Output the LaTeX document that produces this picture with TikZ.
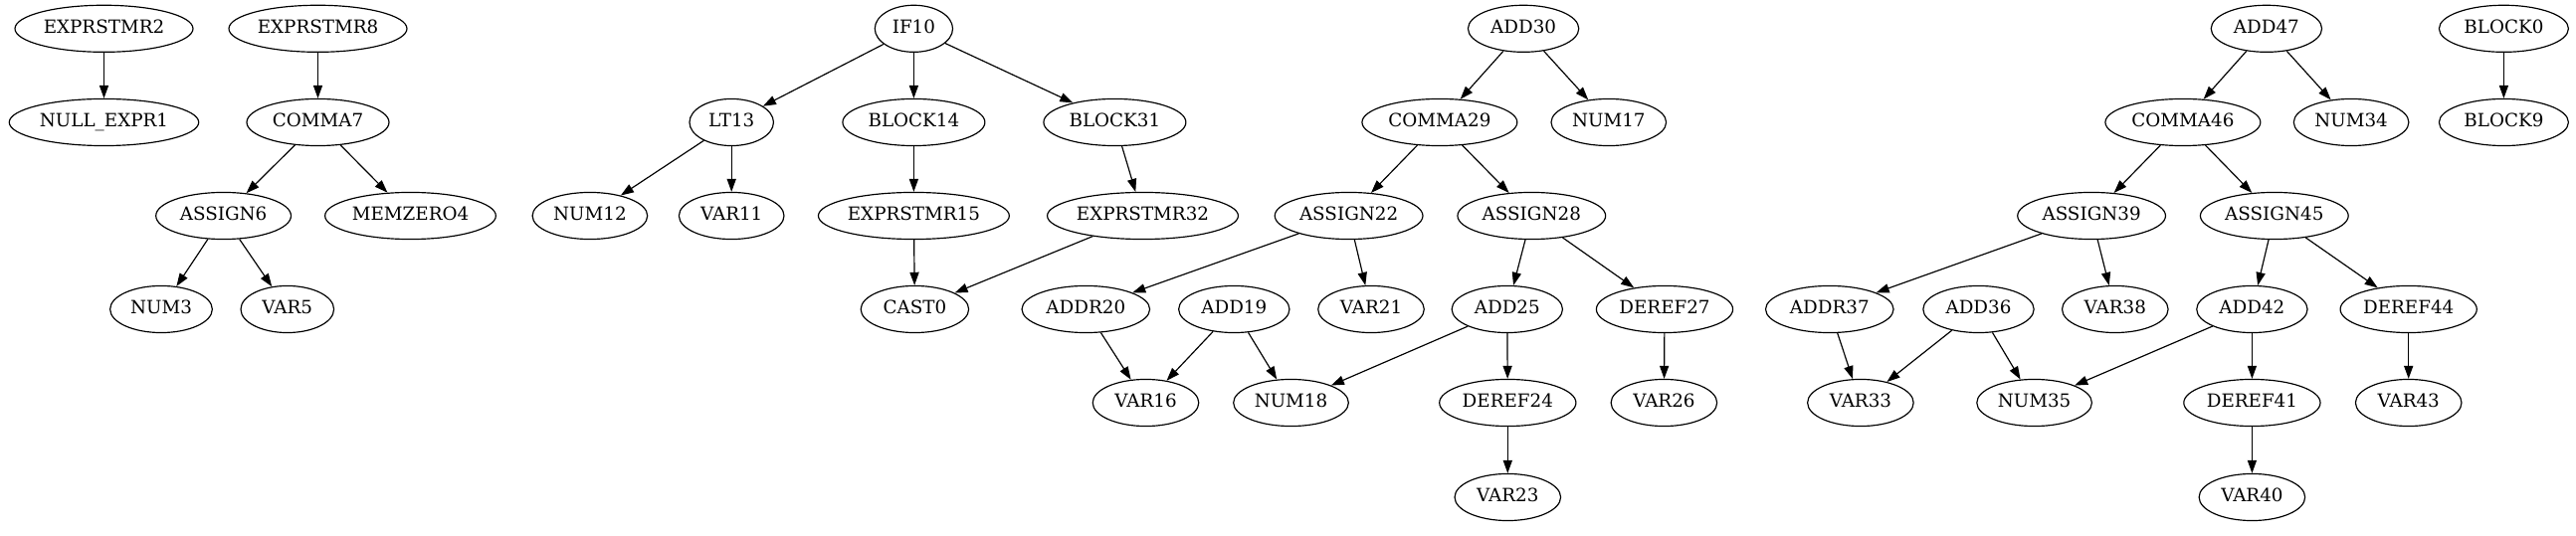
\documentclass[tikz,border=0pt]{standalone}
\usepackage{fontspec}
\setmainfont{Liberation Serif}
\newfontfamily\gvfont{DejaVu Serif}
\usepackage{tikz}
\usetikzlibrary{arrows.meta,shapes.geometric}

% label drawn in DejaVu Serif, sized like the Times label
\newlength\gvwd
\newcommand\gvlabel[1]{\settowidth\gvwd{#1}\makebox[\gvwd][c]{\gvfont #1}}

\begin{document}
\begin{tikzpicture}[
    x=0.7645pt, y=-0.7645pt,
    astnode/.style={draw, ellipse, line width=0.9pt, inner xsep=7.92pt, inner ysep=3.96pt,
        minimum width=54pt, minimum height=36pt, text height=10pt, text depth=3pt,
        font=\fontsize{14}{16}\selectfont},
    arrow/.style={-{Triangle[length=10pt, width=7pt]}, line width=0.9pt}
]
\useasboundingbox (0,0) rectangle (2589,539);

% Rank 1
\node[astnode] (exprstmr2) at (104.5,28.8) {\gvlabel{EXPRSTMR2}};
\node[astnode] (exprstmr8) at (319.5,28.8) {\gvlabel{EXPRSTMR8}};
\node[astnode] (if10) at (918.4,28.8) {\gvlabel{IF10}};
\node[astnode] (add30) at (1531.1,28.8) {\gvlabel{ADD30}};
\node[astnode] (add47) at (2277.9,28.8) {\gvlabel{ADD47}};
\node[astnode] (block0) at (2516.4,28.8) {\gvlabel{BLOCK0}};

% Rank 2
\node[astnode] (nullexpr1) at (104.5,123) {\gvlabel{NULL\_EXPR1}};
\node[astnode] (comma7) at (319.5,123) {\gvlabel{COMMA7}};
\node[astnode] (lt13) at (735.2,123) {\gvlabel{LT13}};
\node[astnode] (block14) at (918.4,123) {\gvlabel{BLOCK14}};
\node[astnode] (block31) at (1120.4,123) {\gvlabel{BLOCK31}};
\node[astnode] (comma29) at (1446.9,123) {\gvlabel{COMMA29}};
\node[astnode] (num17) at (1616.8,123) {\gvlabel{NUM17}};
\node[astnode] (comma46) at (2193.9,123) {\gvlabel{COMMA46}};
\node[astnode] (num34) at (2363.1,123) {\gvlabel{NUM34}};
\node[astnode] (block9) at (2516.4,123) {\gvlabel{BLOCK9}};

% Rank 3
\node[astnode] (assign6) at (224.6,217) {\gvlabel{ASSIGN6}};
\node[astnode] (memzero4) at (412.5,217) {\gvlabel{MEMZERO4}};
\node[astnode] (num12) at (592.9,217) {\gvlabel{NUM12}};
\node[astnode] (var11) at (735.2,217) {\gvlabel{VAR11}};
\node[astnode] (exprstmr15) at (918.4,217) {\gvlabel{EXPRSTMR15}};
\node[astnode] (exprstmr32) at (1148.5,217) {\gvlabel{EXPRSTMR32}};
\node[astnode] (assign22) at (1355.6,217) {\gvlabel{ASSIGN22}};
\node[astnode] (assign28) at (1539.3,217) {\gvlabel{ASSIGN28}};
\node[astnode] (assign39) at (2102.1,217) {\gvlabel{ASSIGN39}};
\node[astnode] (assign45) at (2285.8,217) {\gvlabel{ASSIGN45}};

% Rank 4
\node[astnode] (num3) at (162,311) {\gvlabel{NUM3}};
\node[astnode] (var5) at (288.8,311) {\gvlabel{VAR5}};
\node[astnode] (cast0) at (919.4,311) {\gvlabel{CAST0}};
\node[astnode] (addr20) at (1091.3,311) {\gvlabel{ADDR20}};
\node[astnode] (add19) at (1240.3,311) {\gvlabel{ADD19}};
\node[astnode] (var21) at (1378,311) {\gvlabel{VAR21}};
\node[astnode] (add25) at (1514.8,311) {\gvlabel{ADD25}};
\node[astnode] (deref27) at (1673,311) {\gvlabel{DEREF27}};
\node[astnode] (addr37) at (1838.8,311) {\gvlabel{ADDR37}};
\node[astnode] (add36) at (1988.5,311) {\gvlabel{ADD36}};
\node[astnode] (var38) at (2125.8,311) {\gvlabel{VAR38}};
\node[astnode] (add42) at (2263.4,311) {\gvlabel{ADD42}};
\node[astnode] (deref44) at (2420.7,311) {\gvlabel{DEREF44}};

% Rank 5
\node[astnode] (var16) at (1151.5,405) {\gvlabel{VAR16}};
\node[astnode] (num18) at (1297.5,405) {\gvlabel{NUM18}};
\node[astnode] (deref24) at (1515.3,405) {\gvlabel{DEREF24}};
\node[astnode] (var26) at (1672.4,405) {\gvlabel{VAR26}};
\node[astnode] (var33) at (1869.9,405) {\gvlabel{VAR33}};
\node[astnode] (num35) at (2044.6,405) {\gvlabel{NUM35}};
\node[astnode] (deref41) at (2263.4,405) {\gvlabel{DEREF41}};
\node[astnode] (var43) at (2420.7,405) {\gvlabel{VAR43}};

% Rank 6
\node[astnode] (var23) at (1515.3,500) {\gvlabel{VAR23}};
\node[astnode] (var40) at (2263.4,500) {\gvlabel{VAR40}};

% Edges
\draw[arrow] (exprstmr2) -- (nullexpr1);
\draw[arrow] (exprstmr8) -- (comma7);
\draw[arrow] (comma7) -- (assign6);
\draw[arrow] (comma7) -- (memzero4);
\draw[arrow] (assign6) -- (num3);
\draw[arrow] (assign6) -- (var5);
\draw[arrow] (if10) -- (lt13);
\draw[arrow] (if10) -- (block14);
\draw[arrow] (if10) -- (block31);
\draw[arrow] (lt13) -- (num12);
\draw[arrow] (lt13) -- (var11);
\draw[arrow] (block14) -- (exprstmr15);
\draw[arrow] (block31) -- (exprstmr32);
\draw[arrow] (exprstmr15) -- (cast0);
\draw[arrow] (exprstmr32) -- (cast0);
\draw[arrow] (add30) -- (comma29);
\draw[arrow] (add30) -- (num17);
\draw[arrow] (comma29) -- (assign22);
\draw[arrow] (comma29) -- (assign28);
\draw[arrow] (assign22) -- (addr20);
\draw[arrow] (assign22) -- (var21);
\draw[arrow] (assign28) -- (add25);
\draw[arrow] (assign28) -- (deref27);
\draw[arrow] (addr20) -- (var16);
\draw[arrow] (add19) -- (var16);
\draw[arrow] (add19) -- (num18);
\draw[arrow] (add25) -- (num18);
\draw[arrow] (add25) -- (deref24);
\draw[arrow] (deref27) -- (var26);
\draw[arrow] (deref24) -- (var23);
\draw[arrow] (add47) -- (comma46);
\draw[arrow] (add47) -- (num34);
\draw[arrow] (comma46) -- (assign39);
\draw[arrow] (comma46) -- (assign45);
\draw[arrow] (assign39) -- (addr37);
\draw[arrow] (assign39) -- (var38);
\draw[arrow] (assign45) -- (add42);
\draw[arrow] (assign45) -- (deref44);
\draw[arrow] (addr37) -- (var33);
\draw[arrow] (add36) -- (var33);
\draw[arrow] (add36) -- (num35);
\draw[arrow] (add42) -- (num35);
\draw[arrow] (add42) -- (deref41);
\draw[arrow] (deref44) -- (var43);
\draw[arrow] (deref41) -- (var40);
\draw[arrow] (block0) -- (block9);

\end{tikzpicture}
\end{document}
